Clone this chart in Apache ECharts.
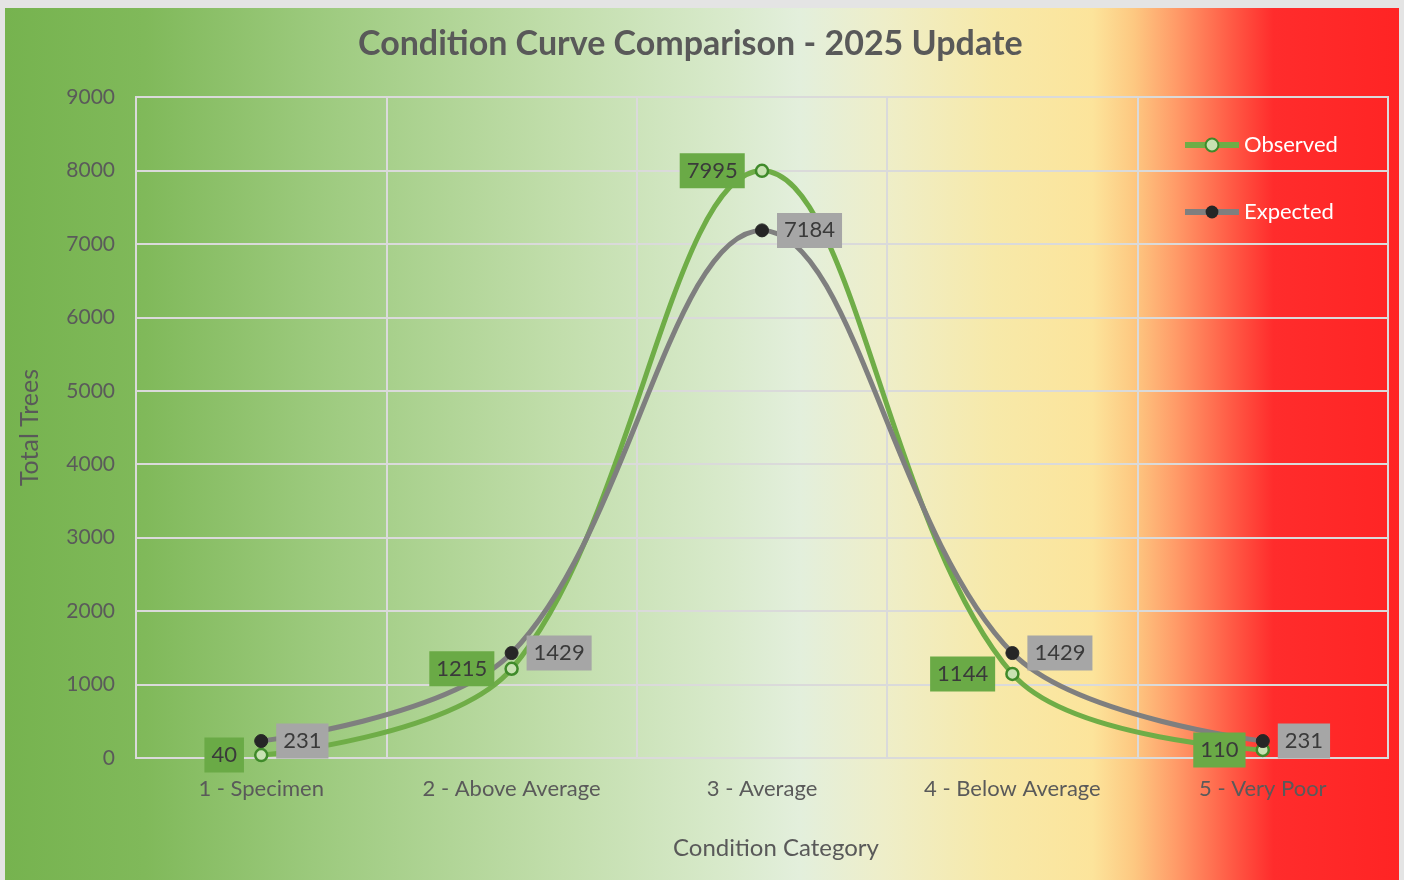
<!DOCTYPE html>
<html>
<head>
    <meta charset="utf-8" />
    <title>Condition Curve Comparison</title>
    <script src="https://cdn.jsdelivr.net/npm/echarts@6/dist/echarts.min.js"></script>
    <style>
        html, body { margin: 0; padding: 0; background: #e4e4e4; }
        #bg {
            position: absolute; left: 5px; top: 8px; width: 1394px; height: 872px;
            background: linear-gradient(to right, #76b34f 0%, #80b95a 10%, #a0cc82 24%, #c2deac 40%, #d9eacc 52%, #e3efdc 57%, #eeeec9 63%, #f7e9a9 71%, #fce49b 78%, #fdc881 81%, #ff9b68 84%, #ff5a45 88%, #ff2c2c 91%, #ff2424 100%);
        }
        #main { position: absolute; left: 0; top: 0; width: 1404px; height: 880px; }
    </style>
</head>
<body>
<div id="bg"></div>
<div id="main"></div>
<script type="text/javascript">
    // 数据
    var categories = ['1 - Specimen', '2 - Above Average', '3 - Average', '4 - Below Average', '5 - Very Poor'];
    var observed = [40, 1215, 7995, 1144, 110];
    var expected = [231, 1429, 7184, 1429, 231];

    var myChart = echarts.init(document.getElementById('main'));
    var font = 'Lato, "Open Sans", sans-serif';
    var option = {
        backgroundColor: 'transparent',
        title: {
            text: 'Condition Curve Comparison - 2025 Update',
            left: 353,
            top: 22,
            textStyle: { color: '#595959', fontSize: 34, fontWeight: 'bold', fontFamily: font }
        },
        legend: {
            orient: 'vertical',
            left: 1177,
            top: 129,
            itemWidth: 54,
            itemHeight: 16,
            itemGap: 45,
            textStyle: { color: '#ffffff', fontSize: 22, fontFamily: font },
            lineStyle: { width: 6 },
            data: ['Observed', 'Expected']
        },
        grid: {
            left: 136,
            top: 97,
            width: 1252,
            height: 661,
            show: true,
            borderColor: '#dadada',
            borderWidth: 2
        },
        xAxis: {
            type: 'category',
            data: categories,
            name: 'Condition Category',
            nameLocation: 'middle',
            nameGap: 78,
            nameTextStyle: { color: '#595959', fontSize: 24, fontFamily: font, padding: [0, 0, 0, 28] },
            axisLine: { lineStyle: { color: '#dadada', width: 2 } },
            axisTick: { show: false },
            axisLabel: { color: '#5a5a5a', fontSize: 22, margin: 20, fontFamily: font },
            splitLine: { show: true, lineStyle: { color: '#dadada', width: 2 } }
        },
        yAxis: {
            type: 'value',
            min: 0,
            max: 9000,
            interval: 1000,
            name: 'Total Trees',
            nameLocation: 'middle',
            nameGap: 94,
            nameTextStyle: { color: '#595959', fontSize: 25, fontFamily: font },
            axisLine: { show: false },
            axisTick: { show: false },
            axisLabel: {
                color: '#5a5a5a', fontSize: 21, margin: 21, fontFamily: font,
                formatter: function (v) { return String(v); }
            },
            splitLine: { lineStyle: { color: '#dadada', width: 2 } }
        },
        series: [
            {
                name: 'Observed',
                type: 'line',
                data: observed,
                smooth: 0.36,
                symbol: 'circle',
                symbolSize: 12,
                lineStyle: { color: '#6fad47', width: 5 },
                itemStyle: { color: '#c8e2b2', borderColor: '#3f8a2a', borderWidth: 2.5 },
                label: {
                    show: true,
                    position: 'left',
                    distance: 10,
                    color: '#3a3a3a',
                    fontSize: 22,
                    fontFamily: font,
                    backgroundColor: '#6aaa46',
                    padding: [7, 7, 6, 7]
                },
                z: 3
            },
            {
                name: 'Expected',
                type: 'line',
                data: expected,
                smooth: 0.36,
                symbol: 'circle',
                symbolSize: 13,
                lineStyle: { color: '#7f7f7f', width: 5 },
                itemStyle: { color: '#262626', borderColor: '#262626' },
                label: {
                    show: true,
                    position: 'right',
                    distance: 8,
                    color: '#3a3a3a',
                    fontSize: 22,
                    fontFamily: font,
                    backgroundColor: '#a6a6a6',
                    padding: [7, 7, 6, 7]
                },
                z: 3
            }
        ]
    };
    myChart.setOption(option);
</script>
</body>
</html>
